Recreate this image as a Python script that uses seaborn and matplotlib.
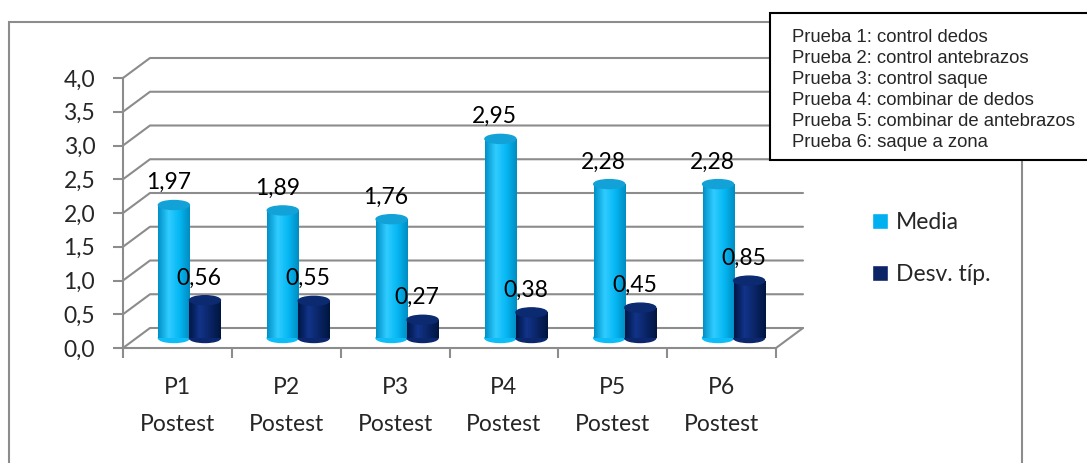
import numpy as np
import pandas as pd
import matplotlib
matplotlib.use("Agg")
import matplotlib.pyplot as plt
import seaborn as sns
from matplotlib.patches import Rectangle, Ellipse
from matplotlib.colors import LinearSegmentedColormap

# data
categories = ["P1\nPostest", "P2\nPostest", "P3\nPostest",
              "P4\nPostest", "P5\nPostest", "P6\nPostest"]
series = ["Media", "Desv. típ."]
media = [1.97, 1.89, 1.76, 2.95, 2.28, 2.28]
desv = [0.56, 0.55, 0.27, 0.38, 0.45, 0.85]
y_ticks = [0.0, 0.5, 1.0, 1.5, 2.0, 2.5, 3.0, 3.5, 4.0]
notes = ["Prueba 1: control dedos",
         "Prueba 2: control antebrazos",
         "Prueba 3: control saque",
         "Prueba 4: combinar de dedos",
         "Prueba 5: combinar de antebrazos",
         "Prueba 6: saque a zona"]

df = pd.DataFrame({
    "cat": categories * 2,
    "serie": [series[0]] * len(media) + [series[1]] * len(desv),
    "valor": media + desv,
})

sns.set_theme(style="white")
plt.rcParams["font.family"] = ["Lato", "DejaVu Sans"]

W, H = 1087, 463
fig = plt.figure(figsize=(W / 100, H / 100), dpi=100)
fig.patch.set_facecolor("white")


def px_box(x0, y0, x1, y1):
    # pixel box (top-left origin) -> figure fraction rect
    return [x0 / W, 1 - y1 / H, (x1 - x0) / W, (y1 - y0) / H]


grid_c = "#8c8c8c"
c_media = "#00b0f0"
c_desv = "#0a2466"
fs = 16.5

# front frame: y axis, floor and back-wall grid
ax_bg = fig.add_axes(px_box(123, 78, 776, 348))
ax_bg.set_xlim(-0.5, 5.5)
ax_bg.set_ylim(0, 4)
px_x = 653 / 6
px_y = 270 / 4
ddx, ddy = 27 / px_x, 20 / px_y

for y in y_ticks:
    ax_bg.plot([-0.5, -0.5 + ddx, 5.5 + ddx], [y, y + ddy, y + ddy],
               color=grid_c, lw=1.5, clip_on=False, zorder=0)
ax_bg.plot([5.5, 5.5 + ddx], [0, ddy], color=grid_c, lw=1.5, clip_on=False, zorder=0)

sns.despine(ax=ax_bg)
for s in ["left", "bottom"]:
    ax_bg.spines[s].set_color(grid_c)
    ax_bg.spines[s].set_linewidth(1.5)
ax_bg.set_yticks(y_ticks, [f"{v:.1f}".replace(".", ",") for v in y_ticks])
ax_bg.set_xticks(range(len(categories)), categories)
ax_bg.set_xticks(np.arange(-0.5, len(categories), 1), minor=True)
ax_bg.tick_params(axis="y", length=7, width=1.5, color=grid_c, pad=13,
                  labelsize=fs, left=True)
ax_bg.tick_params(axis="x", which="major", length=0, pad=21, labelsize=fs)
ax_bg.tick_params(axis="x", which="minor", length=7, width=1.5, color=grid_c,
                  bottom=True)
for lab in ax_bg.get_xticklabels():
    lab.set_linespacing(1.95)
ax_bg.set_xlabel("")
ax_bg.set_ylabel("")
ax_bg.patch.set_alpha(0)

# bars sit half-way into the depth
ax = fig.add_axes(px_box(135, 68, 788, 338))
sns.barplot(data=df, x="cat", y="valor", hue="serie",
            palette=[c_media, c_desv], width=0.57, ax=ax, saturation=1)
handles, labels = ax.get_legend_handles_labels()
if ax.get_legend() is not None:
    ax.get_legend().remove()

grads = {
    0: LinearSegmentedColormap.from_list("m", ["#0090c8", "#30ccff", "#06b8f4", "#008cc2"]),
    1: LinearSegmentedColormap.from_list("d", ["#001645", "#123489", "#0a2466", "#00163f"]),
}
caps = {0: "#12a2d8", 1: "#0b2a70"}
eh = 9 / px_y
for i, cont in enumerate(ax.containers):
    vals = media if i == 0 else desv
    for bar, v in zip(cont, vals):
        x, w, h = bar.get_x(), bar.get_width(), bar.get_height()
        bar.set_edgecolor("none")
        img = ax.imshow(np.linspace(0, 1, 64).reshape(1, -1), cmap=grads[i],
                        extent=(x, x + w, 0, h), aspect="auto", zorder=3)
        img.set_clip_path(bar)
        ax.add_patch(Ellipse((x + w / 2, 0), w, eh, color=grads[i](0.6),
                             clip_on=False, zorder=2))
        ax.add_patch(Ellipse((x + w / 2, h), w, eh, color=caps[i],
                             clip_on=False, zorder=4))
        ax.annotate(f"{v:.2f}".replace(".", ","), (x + w / 2, h),
                    xytext=(-4, 16), textcoords="offset points",
                    ha="center", va="center", fontsize=fs, color="black",
                    annotation_clip=False)
ax.set_xlim(-0.5, 5.5)
ax.set_ylim(0, 4)
ax.axis("off")

fig.legend(handles, labels, loc="upper left",
           bbox_to_anchor=(872 / W, 1 - 212 / H), bbox_transform=fig.transFigure,
           frameon=False, fontsize=fs, handlelength=0.7, handleheight=0.7,
           handletextpad=0.35, labelspacing=1.35, borderpad=0, borderaxespad=0)

# outer chart border
fig.add_artist(Rectangle((9 / W, -0.2), (1022 - 9) / W, 1.2 - 22 / H,
                         transform=fig.transFigure, fill=False,
                         ec="#8c8c8c", lw=1.5, zorder=1))

# note box
fig.add_artist(Rectangle((770 / W, 1 - 160 / H), (1095 - 770) / W, (160 - 13) / H,
                         transform=fig.transFigure, fc="white", ec="black",
                         lw=1.5, zorder=5))
for i, note in enumerate(notes):
    fig.text(792 / W, 1 - (37 + i * 21.2) / H, note, va="center", ha="left",
             fontsize=13.3, family=["Liberation Sans", "DejaVu Sans"], zorder=6)

fig.savefig("out.png", dpi=100, facecolor="white")
